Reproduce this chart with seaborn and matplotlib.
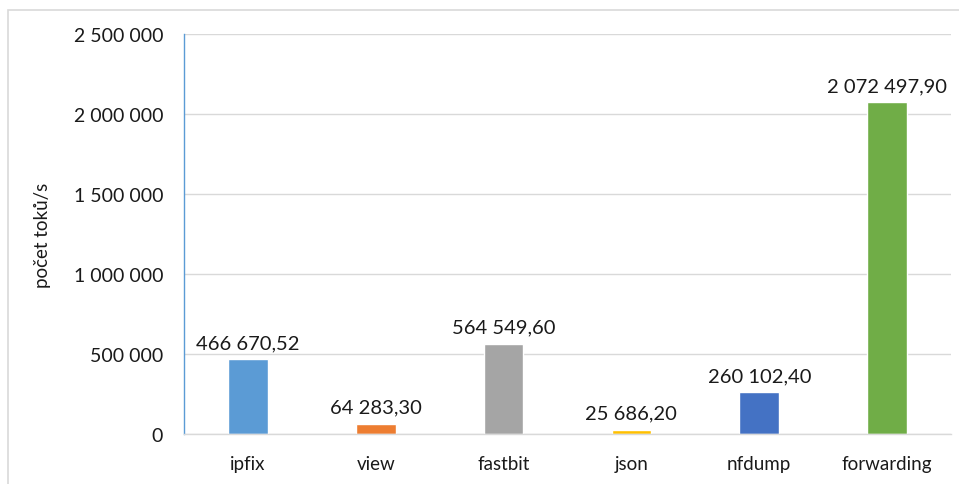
import matplotlib
matplotlib.use("Agg")
import matplotlib.pyplot as plt
import seaborn as sns
import pandas as pd
from matplotlib.ticker import FuncFormatter, MultipleLocator
from matplotlib.patches import Rectangle

categories = ["ipfix", "view", "fastbit", "json", "nfdump", "forwarding"]
values = [466670.52, 64283.30, 564549.60, 25686.20, 260102.40, 2072497.90]
colors = ["#5B9BD5", "#ED7D31", "#A5A5A5", "#FFC000", "#4472C4", "#70AD47"]
y_label = "počet toků/s"

sns.set_theme(style="white")
plt.rcParams["font.family"] = ["Lato", "DejaVu Sans"]

df = pd.DataFrame({"cat": categories, "val": values})

fig = plt.figure(figsize=(9.59, 4.85), dpi=100)
ax = fig.add_axes([184/959, 1-435/485, (951-184)/959, (435-35)/485])

sns.barplot(data=df, x="cat", y="val", hue="cat", palette=colors, legend=False,
            width=0.31, ax=ax, saturation=1)

ax.set_ylim(0, 2500000)
ax.set_xlim(-0.5, len(categories)-0.5)
ax.yaxis.set_major_locator(MultipleLocator(500000))
ax.yaxis.set_major_formatter(FuncFormatter(lambda v, p: f"{int(v):,}".replace(",", " ")))
ax.grid(axis="y", color="#D9D9D9", linewidth=1)
ax.set_axisbelow(True)
for s in ["top", "right"]:
    ax.spines[s].set_visible(False)
ax.spines["left"].set_color("#5B9BD5")
ax.spines["left"].set_linewidth(1)
ax.spines["bottom"].set_color("#D9D9D9")
ax.spines["bottom"].set_linewidth(1)
ax.tick_params(axis="y", length=0, labelsize=14, colors="#1a1a1a", pad=15)
ax.tick_params(axis="x", length=0, labelsize=13.5, colors="#1a1a1a", pad=15)
ax.set_xlabel("")
ax.set_ylabel(y_label, fontsize=13.5, color="#1a1a1a", labelpad=16)

def fmt(v):
    s = f"{v:,.2f}"
    intpart, dec = s.split(".")
    return intpart.replace(",", " ") + "," + dec

for i, v in enumerate(values):
    ax.annotate(fmt(v), (i, v), xytext=(0, 6), textcoords="offset points",
                ha="center", va="bottom", fontsize=14.5, color="#1a1a1a")

fig.patches.append(Rectangle((8/959, -0.1), 1.2, 1 - 11/485 + 0.1, transform=fig.transFigure,
                             fill=False, edgecolor="#D9D9D9", linewidth=1.2))

fig.savefig("out.png", dpi=100)
